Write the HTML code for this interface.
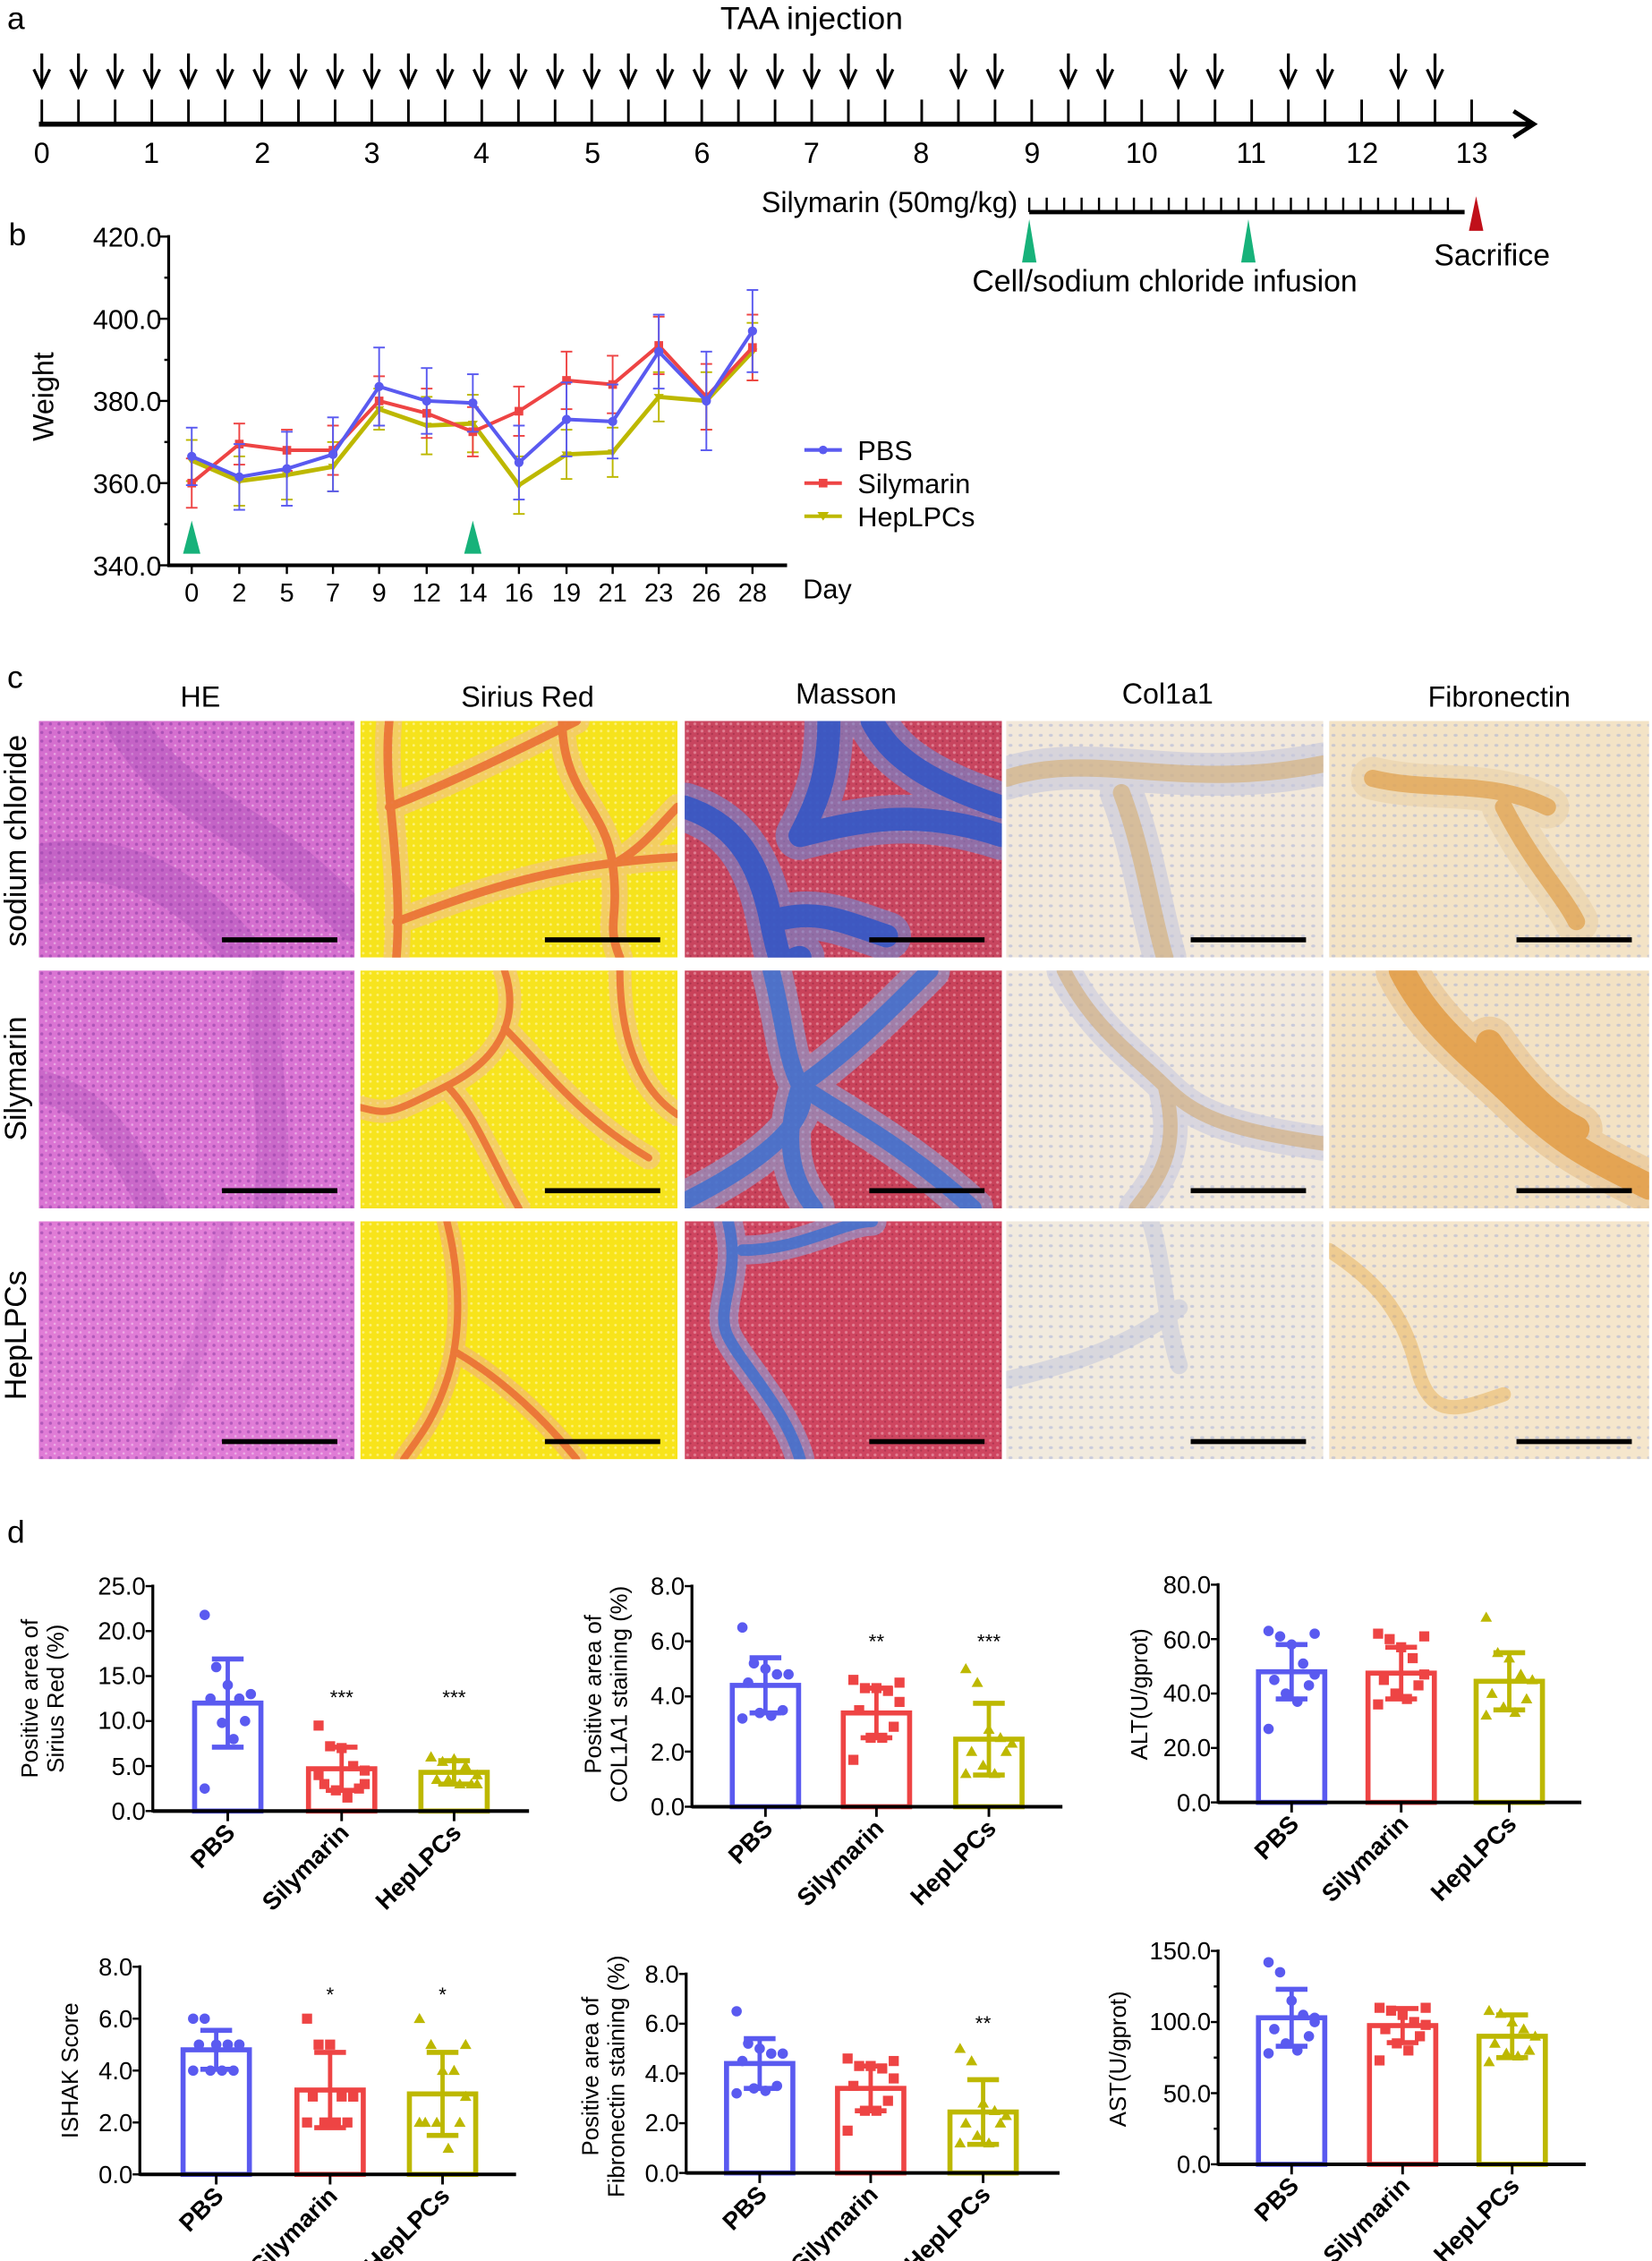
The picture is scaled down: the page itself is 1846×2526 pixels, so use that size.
<!DOCTYPE html>
<html><head><meta charset="utf-8">
<style>
html,body{margin:0;padding:0;background:#fff;}
svg{display:block;}
text{font-family:"Liberation Sans",Arial,sans-serif;fill:#000;}
.t{font-size:17px;}
.b{font-weight:bold;font-size:17px;}
</style></head>
<body>
<svg id="s" width="1846" height="2526" viewBox="0 0 1146 1568" xmlns="http://www.w3.org/2000/svg">
<rect width="1146" height="1568" fill="#fff"/>
<defs>
<pattern id="dotsP" width="6" height="6" patternUnits="userSpaceOnUse"><circle cx="2" cy="2" r="1.1" fill="#7a2f9a" opacity="0.45"/><circle cx="5" cy="5" r="0.8" fill="#fff" opacity="0.4"/></pattern>
<pattern id="dotsY" width="5" height="5" patternUnits="userSpaceOnUse"><circle cx="2" cy="2" r="0.9" fill="#fff7a0" opacity="0.7"/></pattern>
<pattern id="dotsM" width="5" height="5" patternUnits="userSpaceOnUse"><circle cx="2" cy="2" r="1" fill="#f3b7c4" opacity="0.5"/><circle cx="4" cy="4" r="0.7" fill="#7a1a35" opacity="0.4"/></pattern>
<pattern id="dotsB" width="7" height="7" patternUnits="userSpaceOnUse"><ellipse cx="3" cy="3" rx="1.4" ry="1" fill="#9aa6d8" opacity="0.45"/></pattern>
</defs>

<!-- Panel a -->
<text x="5" y="20" style="font-size:22px">a</text>
<text x="563" y="20" text-anchor="middle" style="font-size:22px">TAA injection</text>
<g id="tl" stroke="#000" fill="none"></g>
<g class="t" style="font-size:20px" text-anchor="middle">
<text x="29" y="113">0</text><text x="105" y="113">1</text><text x="182" y="113">2</text><text x="258" y="113">3</text><text x="334" y="113">4</text><text x="411" y="113">5</text><text x="487" y="113">6</text><text x="563" y="113">7</text><text x="639" y="113">8</text><text x="716" y="113">9</text><text x="792" y="113">10</text><text x="868" y="113">11</text><text x="945" y="113">12</text><text x="1021" y="113">13</text>
</g>
<text x="706" y="147" text-anchor="end" style="font-size:20px">Silymarin (50mg/kg)</text>
<g id="sb" stroke="#000"></g>
<polygon points="709,182 714,152 719,182" fill="#17b27a"/>
<polygon points="861,182 866,152 871,182" fill="#17b27a"/>
<polygon points="1019,160 1024,136 1029,160" fill="#c0101a"/>
<text x="1035" y="184" text-anchor="middle" style="font-size:21px">Sacrifice</text>
<text x="808" y="202" text-anchor="middle" style="font-size:21px">Cell/sodium chloride infusion</text>

<!-- Panel b -->
<text x="6" y="170" style="font-size:22px">b</text>
<g class="t" style="font-size:19px" text-anchor="end">
<text x="112" y="171">420.0</text><text x="112" y="228">400.0</text><text x="112" y="285">380.0</text><text x="112" y="342">360.0</text><text x="112" y="399">340.0</text>
</g>
<text transform="translate(37,275) rotate(-90)" text-anchor="middle" style="font-size:20px">Weight</text>
<g class="t" style="font-size:18px" text-anchor="middle">
<text x="133" y="417">0</text><text x="166" y="417">2</text><text x="199" y="417">5</text><text x="231" y="417">7</text><text x="263" y="417">9</text><text x="296" y="417">12</text><text x="328" y="417">14</text><text x="360" y="417">16</text><text x="393" y="417">19</text><text x="425" y="417">21</text><text x="457" y="417">23</text><text x="490" y="417">26</text><text x="522" y="417">28</text>
</g>
<text x="557" y="415" style="font-size:19px">Day</text>
<g id="wb"></g>
<polygon points="127,384 133,361 139,384" fill="#17b27a"/>
<polygon points="322,384 328,361 334,384" fill="#17b27a"/>
<g style="font-size:19px">
<line x1="558" y1="312" x2="584" y2="312" stroke="#5a5af0" stroke-width="2.5"/><circle cx="571" cy="312" r="3" fill="#5a5af0"/><text x="595" y="319">PBS</text>
<line x1="558" y1="335" x2="584" y2="335" stroke="#ee4444" stroke-width="2.5"/><rect x="568" y="332" width="6" height="6" fill="#ee4444"/><text x="595" y="342">Silymarin</text>
<line x1="558" y1="358" x2="584" y2="358" stroke="#bdb800" stroke-width="2.5"/><polygon points="567,355 575,355 571,361" fill="#bdb800"/><text x="595" y="365">HepLPCs</text>
</g>

<!-- Panel c -->
<text x="5" y="477" style="font-size:22px">c</text>
<g style="font-size:20px" text-anchor="middle">
<text x="139" y="490">HE</text><text x="366" y="490">Sirius Red</text><text x="587" y="488">Masson</text><text x="810" y="488">Col1a1</text><text x="1040" y="490">Fibronectin</text>
</g>
<g style="font-size:21px" text-anchor="middle">
<text transform="translate(18,583) rotate(-90)">sodium chloride</text>
<text transform="translate(18,748) rotate(-90)">Silymarin</text>
<text transform="translate(18,926) rotate(-90)">HepLPCs</text>
</g>
<g id="imgs"></g>

<!-- Panel d -->
<text x="5" y="1070" style="font-size:22px">d</text>
<g id="charts"></g>
<g class="t" style="font-size:17px" text-anchor="end">
<text x="101" y="1106">25.0</text><text x="101" y="1137">20.0</text><text x="101" y="1168">15.0</text><text x="101" y="1199">10.0</text><text x="101" y="1231">5.0</text><text x="101" y="1262">0.0</text>
<text x="475" y="1106">8.0</text><text x="475" y="1144">6.0</text><text x="475" y="1182">4.0</text><text x="475" y="1221">2.0</text><text x="475" y="1259">0.0</text>
<text x="840" y="1105">80.0</text><text x="840" y="1143">60.0</text><text x="840" y="1180">40.0</text><text x="840" y="1218">20.0</text><text x="840" y="1256">0.0</text>
<text x="92" y="1370">8.0</text><text x="92" y="1406">6.0</text><text x="92" y="1442">4.0</text><text x="92" y="1478">2.0</text><text x="92" y="1514">0.0</text>
<text x="471" y="1375">8.0</text><text x="471" y="1409">6.0</text><text x="471" y="1444">4.0</text><text x="471" y="1478">2.0</text><text x="471" y="1513">0.0</text>
<text x="840" y="1359">150.0</text><text x="840" y="1408">100.0</text><text x="840" y="1458">50.0</text><text x="840" y="1507">0.0</text>
</g>
<g style="font-size:16px" text-anchor="middle">
<text transform="translate(26,1178) rotate(-90)">Positive area of</text>
<text transform="translate(44,1178) rotate(-90)">Sirius Red (%)</text>
<text transform="translate(417,1175) rotate(-90)">Positive area of</text>
<text transform="translate(435,1175) rotate(-90)">COL1A1 staining (%)</text>
<text transform="translate(796,1175) rotate(-90)">ALT(U/gprot)</text>
<text transform="translate(54,1436) rotate(-90)">ISHAK Score</text>
<text transform="translate(415,1440) rotate(-90)">Positive area of</text>
<text transform="translate(433,1440) rotate(-90)">Fibronectin staining (%)</text>
<text transform="translate(781,1428) rotate(-90)">AST(U/gprot)</text>
</g>
<g style="font-size:14px" text-anchor="middle">
<text x="237" y="1182">***</text><text x="315" y="1182">***</text>
<text x="608" y="1143">**</text><text x="686" y="1143">***</text>
<text x="229" y="1388">*</text><text x="307" y="1388">*</text>
<text x="682" y="1408">**</text>
</g>
<g class="b">
<text transform="translate(164,1272) rotate(-45)" text-anchor="end">PBS</text>
<text transform="translate(243,1272) rotate(-45)" text-anchor="end">Silymarin</text>
<text transform="translate(321,1272) rotate(-45)" text-anchor="end">HepLPCs</text>
<text transform="translate(537,1269) rotate(-45)" text-anchor="end">PBS</text>
<text transform="translate(614,1269) rotate(-45)" text-anchor="end">Silymarin</text>
<text transform="translate(692,1269) rotate(-45)" text-anchor="end">HepLPCs</text>
<text transform="translate(902,1266) rotate(-45)" text-anchor="end">PBS</text>
<text transform="translate(978,1266) rotate(-45)" text-anchor="end">Silymarin</text>
<text transform="translate(1053,1266) rotate(-45)" text-anchor="end">HepLPCs</text>
<text transform="translate(156,1524) rotate(-45)" text-anchor="end">PBS</text>
<text transform="translate(235,1524) rotate(-45)" text-anchor="end">Silymarin</text>
<text transform="translate(313,1524) rotate(-45)" text-anchor="end">HepLPCs</text>
<text transform="translate(533,1523) rotate(-45)" text-anchor="end">PBS</text>
<text transform="translate(610,1523) rotate(-45)" text-anchor="end">Silymarin</text>
<text transform="translate(688,1523) rotate(-45)" text-anchor="end">HepLPCs</text>
<text transform="translate(902,1517) rotate(-45)" text-anchor="end">PBS</text>
<text transform="translate(979,1517) rotate(-45)" text-anchor="end">Silymarin</text>
<text transform="translate(1055,1517) rotate(-45)" text-anchor="end">HepLPCs</text>
</g>
</svg>
<script>
var NS="http://www.w3.org/2000/svg";
function el(p,t,a){var e=document.createElementNS(NS,t);for(var k in a)e.setAttribute(k,a[k]);p.appendChild(e);return e;}
var tl=document.getElementById('tl');
function X(u){return 29+u*76.3;}
el(tl,'line',{x1:27,y1:86,x2:1062,y2:86,'stroke-width':3.5});
el(tl,'polyline',{points:'1050,77 1064,86 1050,95','stroke-width':3});
for(var k=0;k<=39;k++){var x=X(k/3);el(tl,'line',{x1:x,y1:69,x2:x,y2:86,'stroke-width':1.8});}
var arr=[];for(k=0;k<24;k++)arr.push(k);arr=arr.concat([25,26,28,29,31,32,34,35,37,38]);
arr.forEach(function(k){var x=X(k/3);el(tl,'line',{x1:x,y1:37,x2:x,y2:59,'stroke-width':2});el(tl,'polyline',{points:(x-5.5)+',48 '+x+',60 '+(x+5.5)+',48','stroke-width':2});});
var sb=document.getElementById('sb');
el(sb,'line',{x1:714,y1:147,x2:1016,y2:147,'stroke-width':3});
for(x=714;x<=1016;x+=12.1)el(sb,'line',{x1:x,y1:137,x2:x,y2:147,'stroke-width':1.5});
var wb=document.getElementById('wb');
el(wb,'line',{x1:117,y1:163,x2:117,y2:393,stroke:'#000','stroke-width':2});
el(wb,'line',{x1:116,y1:392,x2:546,y2:392,stroke:'#000','stroke-width':2.5});
for(var v=340;v<=420;v+=10){var y=392-(v-340)*2.85;el(wb,'line',{x1:(v%20==0?111:114),y1:y,x2:117,y2:y,stroke:'#000','stroke-width':1.5});}
var xs=[133,166,199,231,263,296,328,360,393,425,457,490,522];
xs.forEach(function(x){el(wb,'line',{x1:x,y1:392,x2:x,y2:398,stroke:'#000','stroke-width':1.5});});
function Y(v){return 392-(v-340)*2.85;}
var ser=[
{c:'#bdb800',d:[365.5,360.5,362,364,378,374,374.5,359.5,367,367.5,381,380,392],e:[5,6,6,6,5,7,7,7,6,6,6,7,7],m:'t',w:3},
{c:'#ee4444',d:[360,369.5,368,368,380,377,372.5,377.5,385,384,393.5,381,393],e:[6,5,5,6,6,6,6,6,7,7,7,8,8],m:'s',w:2.5},
{c:'#5a5af0',d:[366.5,361.5,363.5,367,383.5,380,379.5,365,375.5,375,392,380,397],e:[7,8,9,9,9.5,8,7,9,9,9,9,12,10],m:'c',w:2.5}];
ser.forEach(function(s){
 s.d.forEach(function(v,i){var x=xs[i];el(wb,'line',{x1:x,y1:Y(v-s.e[i]),x2:x,y2:Y(v+s.e[i]),stroke:s.c,'stroke-width':1.2});
  [v-s.e[i],v+s.e[i]].forEach(function(q){el(wb,'line',{x1:x-4,y1:Y(q),x2:x+4,y2:Y(q),stroke:s.c,'stroke-width':1.2});});});
 el(wb,'polyline',{points:s.d.map(function(v,i){return xs[i]+','+Y(v);}).join(' '),fill:'none',stroke:s.c,'stroke-width':s.w});
 s.d.forEach(function(v,i){var x=xs[i],y=Y(v);
  if(s.m=='c')el(wb,'circle',{cx:x,cy:y,r:3.2,fill:s.c});
  else if(s.m=='s')el(wb,'rect',{x:x-3,y:y-3,width:6,height:6,fill:s.c});
  else el(wb,'polygon',{points:(x-3.5)+','+(y-2)+' '+(x+3.5)+','+(y-2)+' '+x+','+(y+3),fill:s.c});});
});
var im=document.getElementById('imgs');
var cols=[[27,246],[250,470],[475,695],[698,918],[922,1144]];
var rows=[[500,664],[673,838],[847,1012]];
var base=[['#d56fcf','#f6e31c','#c8455f','#f2e8da','#f3e3c6'],['#da74d3','#f7e41e','#c9425a','#f2e9dc','#f3e2c4'],['#e07cd6','#f8e41a','#cf4560','#f1eade','#f5e6cc']];
var pat=['dotsP','dotsY','dotsM','dotsB','dotsB'];
var strands=[
 [
  [{d:'M60,0 C80,40 120,60 150,80 S200,120 220,140 M0,100 C50,90 100,110 140,160',c:'#a54db4',w:28,o:0.35}],
  [{d:'M20,0 C15,50 30,100 25,165 M20,60 C70,40 110,20 150,0 M140,0 C140,50 170,60 175,100 S170,140 180,165 M25,140 C80,120 130,100 220,95 M175,100 C195,90 210,70 220,60',c:'#e9642f',w:6,o:0.8,u:'#f1c090',uw:18}],
  [{d:'M0,60 C30,70 50,90 60,140 S70,165 80,165 M60,140 C90,130 110,140 140,150 M100,0 C100,40 90,60 80,80 M80,80 C120,70 160,60 220,80 M130,0 C140,20 160,40 220,60',c:'#2f55c6',w:16,o:0.85,u:'#6e8ad6',uw:34}],
  [{d:'M0,40 C60,20 120,50 220,30 M80,50 C95,90 100,130 110,165',c:'#d6a55c',w:12,o:0.5,u:'#c4c6dc',uw:30}],
  [{d:'M30,40 C70,50 110,40 150,60 M120,60 C140,100 160,120 170,140',c:'#dd8f2c',w:12,o:0.55,u:'#ead0a8',uw:30}]
 ],
 [
  [{d:'M160,0 C150,50 170,100 160,165 M0,80 C40,90 60,120 80,165',c:'#a54db4',w:22,o:0.3}],
  [{d:'M100,0 C110,30 100,60 60,80 S20,100 0,95 M60,80 C80,100 90,130 110,165 M100,40 C130,70 150,100 200,130 M180,0 C180,40 190,80 220,100',c:'#e9642f',w:5,o:0.8,u:'#f1c090',uw:16}],
  [{d:'M60,0 C70,40 70,60 80,80 S60,130 0,160 M80,80 C110,60 140,30 170,0 M80,80 C110,100 150,120 200,165 M80,80 C70,110 70,140 90,165',c:'#3a6ed0',w:12,o:0.8,u:'#88a6dc',uw:28}],
  [{d:'M40,0 C60,40 90,60 110,80 S150,110 220,120 M110,80 C120,120 110,140 90,165',c:'#d2a25e',w:10,o:0.5,u:'#c8cadf',uw:24}],
  [{d:'M50,0 C70,40 100,60 130,90 S180,130 220,150 M110,50 C130,80 150,100 170,110',c:'#e0891e',w:18,o:0.6,u:'#e8c28c',uw:36}]
 ],
 [
  [{d:'M130,0 C120,60 110,100 80,165',c:'#b65cc0',w:12,o:0.25}],
  [{d:'M60,0 C70,40 70,80 60,110 S40,150 30,165 M65,90 C100,110 130,140 150,165',c:'#e9642f',w:5,o:0.8,u:'#f1b080',uw:14}],
  [{d:'M30,0 C40,40 20,60 30,80 S70,130 80,165 M40,20 C80,20 110,0 130,0',c:'#3a6ed0',w:8,o:0.8,u:'#8aa4dc',uw:20}],
  [{d:'M0,110 C40,100 80,90 120,60 M100,0 C110,30 110,70 120,100',c:'#b4bcdc',w:12,o:0.4}],
  [{d:'M0,20 C30,40 50,60 60,100 S90,130 120,120',c:'#e4a33a',w:10,o:0.4}]
 ]];
rows.forEach(function(r,ri){cols.forEach(function(c,ci){
 var w=c[1]-c[0],h=r[1]-r[0];
 var s=el(im,'svg',{x:c[0],y:r[0],width:w,height:h,viewBox:'0 0 220 165',preserveAspectRatio:'none'});
 el(s,'rect',{width:220,height:165,fill:base[ri][ci]});
 el(s,'rect',{width:220,height:165,fill:'url(#'+pat[ci]+')'});
 strands[ri][ci].forEach(function(st){
  if(st.u)el(s,'path',{d:st.d,fill:'none',stroke:st.u,'stroke-width':st.uw,opacity:0.6,'stroke-linecap':'round'});
  el(s,'path',{d:st.d,fill:'none',stroke:st.c,'stroke-width':st.w,opacity:st.o,'stroke-linecap':'round'});
 });
 el(im,'rect',{x:c[1]-92,y:r[1]-14,width:80,height:3.5,fill:'#000'});
});});
var ch=document.getElementById('charts');
var C=['#5a5af0','#ee4444','#bdb800'];
function chart(ax,top,bot,max,step,minor,cx,end,means,sds,pts){
 var sc=(bot-top)/max;function yy(v){return bot-v*sc;}
 for(var g=0;g<3;g++){
  var x=cx[g],col=C[g];
  el(ch,'rect',{x:x-23,y:yy(means[g]),width:46,height:bot-yy(means[g]),fill:'none',stroke:col,'stroke-width':3.5});
  el(ch,'line',{x1:x,y1:yy(means[g]-sds[g]),x2:x,y2:yy(means[g]+sds[g]),stroke:col,'stroke-width':3});
  [means[g]-sds[g],means[g]+sds[g]].forEach(function(q){el(ch,'line',{x1:x-11,y1:yy(q),x2:x+11,y2:yy(q),stroke:col,'stroke-width':3.5});});
  pts[g].forEach(function(p){var px=x+p[0],py=yy(p[1]);
   if(g==0)el(ch,'circle',{cx:px,cy:py,r:3.6,fill:col});
   else if(g==1)el(ch,'rect',{x:px-3.5,y:py-3.5,width:7,height:7,fill:col});
   else el(ch,'polygon',{points:(px-4)+','+(py+3)+' '+(px+4)+','+(py+3)+' '+px+','+(py-4),fill:col});});
 }
 el(ch,'line',{x1:ax,y1:top-1,x2:ax,y2:bot+1,stroke:'#000','stroke-width':2});
 el(ch,'line',{x1:ax,y1:bot,x2:end,y2:bot,stroke:'#000','stroke-width':2.5});
 for(var v=0;v<=max+1e-6;v+=step)el(ch,'line',{x1:ax-5,y1:yy(v),x2:ax,y2:yy(v),stroke:'#000','stroke-width':1.5});
 if(minor)for(v=minor;v<max;v+=step)el(ch,'line',{x1:ax-3,y1:yy(v),x2:ax,y2:yy(v),stroke:'#000','stroke-width':1.5});
 cx.forEach(function(x){el(ch,'line',{x1:x,y1:bot,x2:x,y2:bot+7,stroke:'#000','stroke-width':1.8});});
}
var sp=[-16,-8,0,8,16,-12,12,-4,4,-16,16];
function mk(vals){return vals.map(function(v,i){return [sp[i%sp.length],v];});}
chart(106,1100,1256,25,5,0,[158,237,315],367,[12,4.7,4.3],[4.9,2.4,1.3],
 [mk([21.8,16,14,12.5,13,12.5,10,9.8,8,2.5]),mk([9.5,7.2,7,5,4.5,3,2.5,2.3,1.5,4,3]),mk([6,5.5,5.8,5,4,3.5,3,3.5,3,6,3])]);
chart(480,1100,1253,8,2,0,[531,608,686],737,[4.4,3.4,2.45],[1.0,0.9,1.3],
 [mk([6.5,5.2,5.0,4.8,4.8,4.5,3.5,3.4,3.3,3.2]),mk([4.6,4.3,4.3,4.2,3.8,3.5,2.9,2.5,2.5,1.7,4.5]),mk([5.0,4.5,2.8,2.5,2.3,2.0,2.0,1.5,1.2,1.2])]);
chart(845,1099,1250,80,20,0,[896,972,1047],1097,[48,47.5,44.5],[10,9.5,10.5],
 [mk([63,61,58,51,47,45,43,40,37,27,62]),mk([62,60,57,53,47,45,43,40,38,36,61]),mk([68,55,53,47,45,40,38,35,33,32])]);
chart(97,1364,1508,8,2,0,[150,229,307],358,[4.8,3.25,3.1],[0.75,1.45,1.6],
 [mk([6,6,5,5,5,5,4,4,4,4,5]),mk([6,5,5,3,3,3,2,2,2,2,3]),mk([6,5,4,4,3,2,2,2,1,2,5])]);
chart(476,1369,1507,8,2,0,[527,604,682],735,[4.4,3.4,2.45],[1.0,0.9,1.3],
 [mk([6.5,5.2,5.0,4.8,4.8,4.5,3.5,3.4,3.3,3.2]),mk([4.6,4.3,4.3,4.2,3.8,3.5,2.9,2.5,2.5,1.7,4.5]),mk([5.0,4.5,2.8,2.5,2.3,2.0,2.0,1.5,1.2,1.2])]);
chart(845,1353,1501,150,50,25,[896,973,1049],1100,[103,97.5,90],[20,12,15],
 [mk([142,135,115,105,100,95,90,85,80,78,103]),mk([110,108,105,100,98,95,90,85,80,73,110]),mk([108,106,100,95,90,85,80,78,76,72])]);
</script>
</body></html>
